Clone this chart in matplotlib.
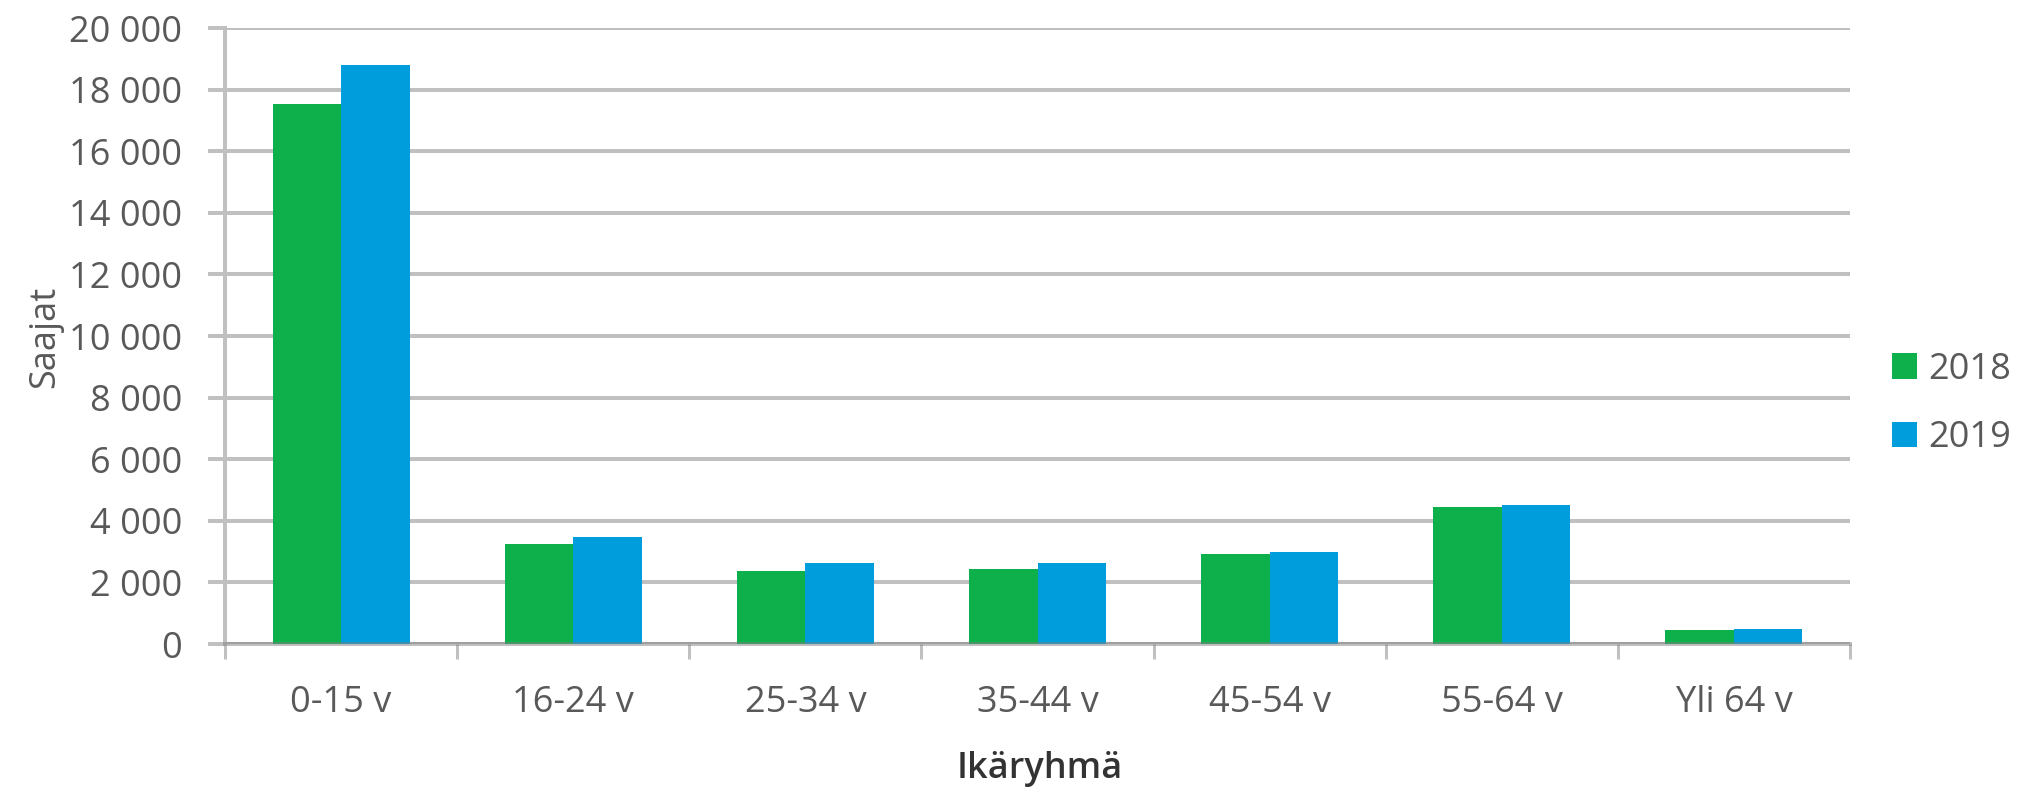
import matplotlib
matplotlib.use("Agg")
import matplotlib.pyplot as plt
import numpy as np
from matplotlib.ticker import FixedLocator, FuncFormatter

# Data: recipients by age group
age_groups = ["0-15 v", "16-24 v", "25-34 v", "35-44 v", "45-54 v", "55-64 v", "Yli 64 v"]
recipients_2018 = [17540, 3250, 2370, 2440, 2930, 4450, 470]
recipients_2019 = [18790, 3490, 2620, 2620, 3000, 4500, 480]
series_labels = ["2018", "2019"]
y_ticks = list(range(0, 20001, 2000))

GREEN = "#0DB04B"
BLUE = "#009DDC"
GRID = "#C0C0C0"
TEXT = "#595959"
FONT = "Open Sans"
FS = 26

DPI = 100
fig = plt.figure(figsize=(20.2, 7.87), dpi=DPI)
W, H = 2020, 787
left, right, top, bottom = 225, 1850, 28, 644
ax = fig.add_axes([left / W, 1 - bottom / H, (right - left) / W, (bottom - top) / H])

px = 72.0 / DPI  # points per pixel

x = np.arange(len(age_groups))
bw = 0.295
ax.bar(x - bw / 2, recipients_2018, width=bw, color=GREEN, label=series_labels[0], zorder=3)
ax.bar(x + bw / 2, recipients_2019, width=bw, color=BLUE, label=series_labels[1], zorder=3)

ax.set_xlim(-0.5, len(age_groups) - 0.5)
ax.set_ylim(0, 20000)

# horizontal gridlines
ax.yaxis.set_major_locator(FixedLocator(y_ticks))
ax.grid(axis="y", color=GRID, linewidth=4 * px, zorder=0)
ax.set_axisbelow(True)

ax.yaxis.set_major_formatter(FuncFormatter(lambda v, p: f"{int(v):,}".replace(",", " ")))
ax.tick_params(axis="y", length=17 * px, width=4 * px, color=GRID, pad=26 * px,
               labelsize=FS, labelcolor=TEXT)

# category labels at centres, tick marks at group boundaries
ax.set_xticks(x)
ax.set_xticklabels(age_groups)
ax.set_xticks(np.arange(-0.5, len(age_groups), 1.0), minor=True)
ax.tick_params(axis="x", which="major", length=0, pad=41 * px, labelsize=FS, labelcolor=TEXT)
ax.tick_params(axis="x", which="minor", length=15 * px, width=3 * px, color=GRID)

for lbl in ax.get_xticklabels() + ax.get_yticklabels():
    lbl.set_fontfamily(FONT)

for s in ["top", "right"]:
    ax.spines[s].set_visible(False)
ax.spines["left"].set_color(GRID)
ax.spines["left"].set_linewidth(4 * px)
ax.spines["bottom"].set_color("#808080")
ax.spines["bottom"].set_alpha(0.5)
ax.spines["bottom"].set_linewidth(4 * px)
ax.spines["bottom"].set_zorder(4)

fig.text(45 / W, 1 - 337 / H, "Saajat", rotation=90, ha="center", va="center",
         fontsize=FS, color=TEXT, family=FONT)
fig.text(1040 / W, 1 - 769 / H, "Ikäryhmä", ha="center", va="center",
         fontsize=FS, color="#333333", family=FONT, weight="semibold")

leg = fig.legend(loc="center left", bbox_to_anchor=(1892 / W, 1 - 404 / H),
                 frameon=False, borderpad=0, borderaxespad=0,
                 handlelength=0.7, handleheight=0.7, handletextpad=0.3,
                 labelspacing=0.9, prop={"family": FONT, "size": FS})
for t in leg.get_texts():
    t.set_color(TEXT)

fig.savefig("out.png", dpi=DPI)
